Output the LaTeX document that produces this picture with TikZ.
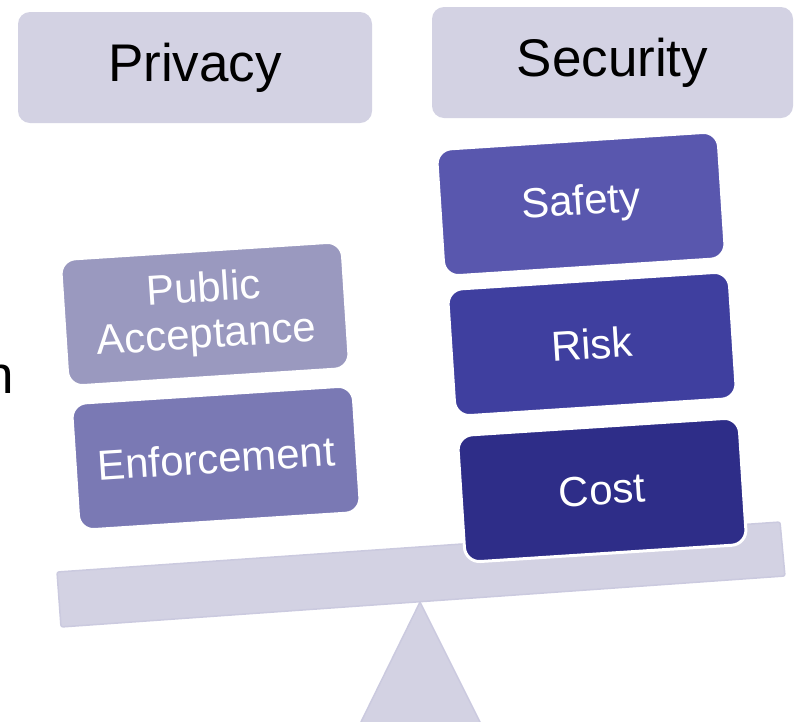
\documentclass[tikz,border=0pt]{standalone}
\usepackage{fontspec}
\setmainfont{Liberation Sans}
\definecolor{lavender}{HTML}{D3D2E3}
\definecolor{lavenderedge}{HTML}{CBCADF}
\definecolor{safetyblue}{HTML}{5957AE}
\definecolor{riskblue}{HTML}{3F3F9F}
\definecolor{costblue}{HTML}{2E2D88}
\definecolor{publicblue}{HTML}{9A99BF}
\definecolor{enforceblue}{HTML}{7A79B4}
\begin{document}
\begin{tikzpicture}[x=1pt,y=-1pt,
	head/.style={fill=lavender, rounded corners=12pt, minimum width=354pt, minimum height=111pt, font=\fontsize{53}{60}\selectfont},
	weight/.style={rotate=3.7, draw=white, line width=3pt, rounded corners=15pt, minimum width=282pt, minimum height=127pt, text=white, align=center, font=\fontsize{42}{46}\selectfont}]
\clip (0,0) rectangle (794,721);
% fulcrum and beam
\draw[fill=lavender, draw=lavenderedge, line width=1.5pt] (358,728) -- (420,602) -- (483,728) -- cycle;
\draw[fill=lavender, draw=lavenderedge, line width=1.5pt, rounded corners=2pt] (57,572) -- (780,522) -- (785,576) -- (61,627) -- cycle;
% the two sides
	\node[head] (privacy) at (195,67.5) {Privacy};
	\node[head, minimum width=361pt] (security) at (612.5,62.5) {Security};
% weights on the scale
	\node[weight, fill=publicblue] (public) at (205,314) {Public\\Acceptance};
	\node[weight, fill=enforceblue] (enforcement) at (216,458) {Enforcement};
	\node[weight, fill=safetyblue] (safety) at (581,204) {Safety};
	\node[weight, fill=riskblue] (risk) at (592,344) {Risk};
	\node[weight, fill=costblue] (cost) at (602,490) {Cost};
	\node[anchor=base east, inner sep=0pt, font=\fontsize{53}{60}\selectfont] (cut) at (14,393) {n};
\end{tikzpicture}
\end{document}
